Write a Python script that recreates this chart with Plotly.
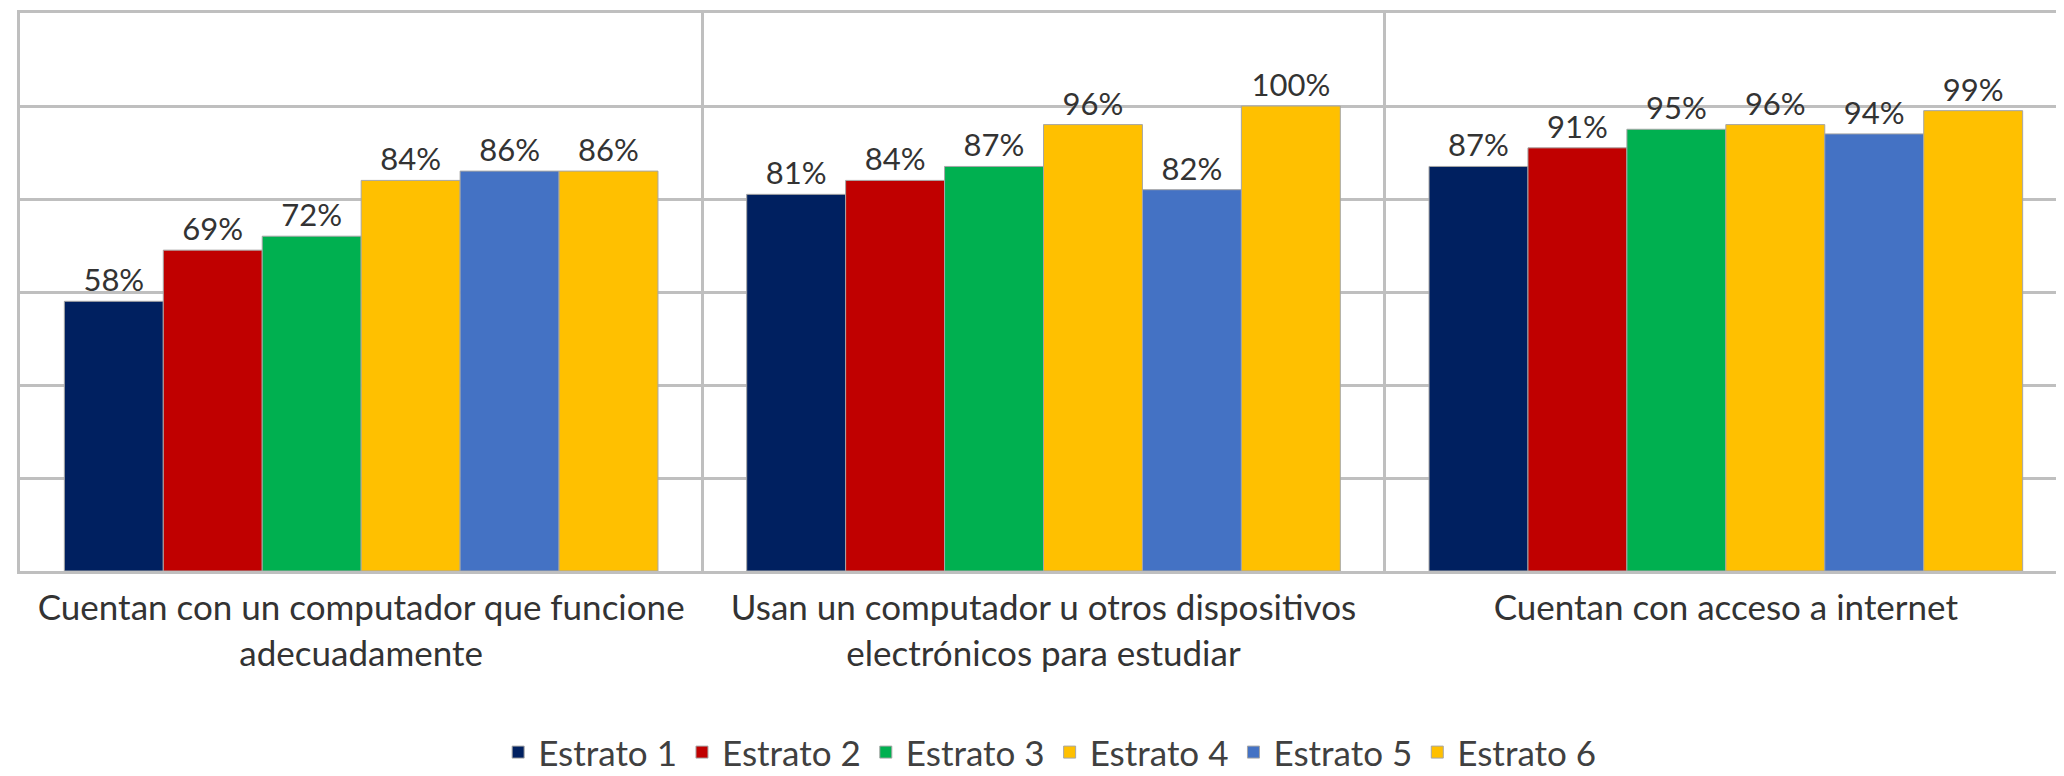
import plotly.graph_objects as go

categories = [
    "Cuentan con un computador que funcione<br>adecuadamente",
    "Usan un computador u otros dispositivos<br>electrónicos para estudiar",
    "Cuentan con acceso a internet",
]
series_names = ["Estrato 1", "Estrato 2", "Estrato 3", "Estrato 4", "Estrato 5", "Estrato 6"]
estrato1 = [58, 81, 87]
estrato2 = [69, 84, 91]
estrato3 = [72, 87, 95]
estrato4 = [84, 96, 96]
estrato5 = [86, 82, 94]
estrato6 = [86, 100, 99]
values = [estrato1, estrato2, estrato3, estrato4, estrato5, estrato6]
colors = ["#002060", "#C00000", "#00B050", "#FFC000", "#4472C4", "#FFC000"]

FONT = "Lato"
fig = go.Figure()
for name, vals, col in zip(series_names, values, colors):
    fig.add_trace(go.Bar(
        name=name, x=categories, y=vals,
        marker=dict(color=col, line=dict(color="#A6A6A6", width=1)),
        text=[f"{v}%" for v in vals], textposition="outside",
        textfont=dict(family=FONT, size=31, color="#333333"),
        cliponaxis=False,
    ))

fig.update_layout(
    width=2064, height=776,
    margin=dict(l=12, r=2, t=5, b=193),
    paper_bgcolor="white", plot_bgcolor="white",
    barmode="group", bargap=0.13, bargroupgap=0,
    font=dict(family=FONT, color="#404040"),
    legend=dict(orientation="h", x=0.503, xanchor="center", y=-0.325, yanchor="middle",
                font=dict(family=FONT, size=35, color="#404040"),
                itemwidth=30, tracegroupgap=0),
    xaxis=dict(type="category", tickson="boundaries", showgrid=True, gridcolor="#BFBFBF",
               gridwidth=3, showline=True, linecolor="#BFBFBF", linewidth=3, mirror=True,
               ticks="", ticklabelstandoff=4,
               tickfont=dict(family=FONT, size=35, color="#333333")),
    yaxis=dict(range=[0, 120], dtick=20, showgrid=True, gridcolor="#BFBFBF", gridwidth=3,
               showticklabels=False, showline=True, linecolor="#BFBFBF", linewidth=3,
               mirror=True, zeroline=False, ticks=""),
)
fig.write_html("out.html")
